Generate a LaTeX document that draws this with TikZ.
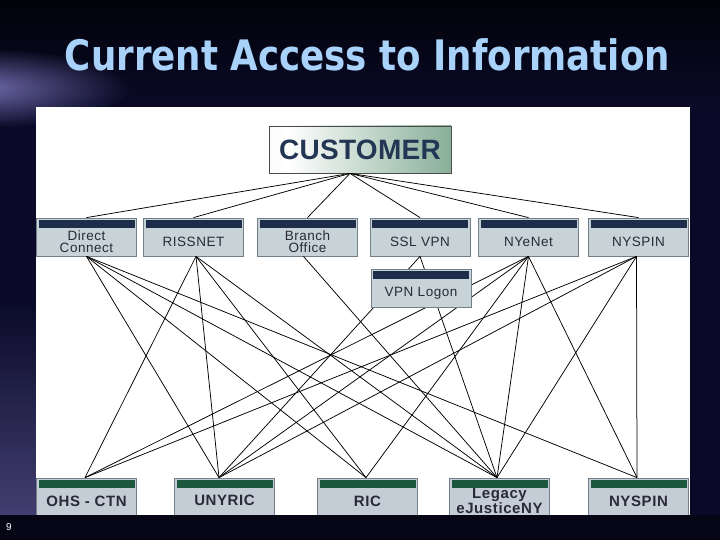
\documentclass[tikz,border=0pt]{standalone}
\usepackage{fontspec}
\setmainfont{Liberation Sans}
\newfontfamily\titlefont{DejaVu Sans}
\newfontfamily\boxfont{Liberation Sans}[LetterSpace=4]
\newfontfamily\custfont{Liberation Sans}[LetterSpace=1]
\usetikzlibrary{calc,fadings}
\tikzfading[name=glowfade, inner color=transparent!0, outer color=transparent!100]
\definecolor{bgnavy}{RGB}{10,10,40}
\definecolor{bgtop}{RGB}{2,2,10}
\definecolor{glow}{RGB}{110,105,170}
\definecolor{titleblue}{RGB}{168,210,250}
\definecolor{boxfill}{RGB}{200,211,216}
\definecolor{boxfillb}{RGB}{196,204,214}
\definecolor{navybar}{RGB}{30,45,75}
\definecolor{greenbar}{RGB}{28,88,62}
\definecolor{boxborder}{RGB}{115,128,138}
\definecolor{custgreen}{RGB}{70,130,95}
\definecolor{custtext}{RGB}{35,55,85}
\definecolor{boxtext}{RGB}{40,42,55}
\definecolor{bandcol}{RGB}{5,5,22}
\pgfdeclarehorizontalshading{custshade}{100bp}{color(0bp)=(gray!18); color(30bp)=(white); color(100bp)=(custgreen)}
\begin{document}
\begin{tikzpicture}[x=1pt,y=-1pt,
  conn/.style={draw=black, line width=0.75pt},
  topbox/.style={draw=boxborder, fill=boxfill, line width=0.8pt, minimum width=100pt, minimum height=38pt, inner sep=0pt,
    path picture={\fill[navybar] ([xshift=2pt,yshift=-2pt]path picture bounding box.north west) rectangle ([xshift=-2pt,yshift=-10pt]path picture bounding box.north east);}},
  botbox/.style={draw=boxborder, fill=boxfillb, line width=0.8pt, minimum width=100pt, minimum height=44pt, inner sep=0pt,
    path picture={\fill[greenbar] ([xshift=2pt,yshift=-2pt]path picture bounding box.north west) rectangle ([xshift=-2pt,yshift=-10pt]path picture bounding box.north east);}},
  toptext/.style={text=boxtext, align=center, inner sep=0pt, font=\boxfont\fontsize{13.5}{12}\selectfont},
  bottext/.style={text=boxtext, align=center, inner sep=0pt, font=\boxfont\bfseries\fontsize{15}{13}\selectfont}]
\useasboundingbox (0,0) rectangle (720,540);
% background
\fill[bgnavy] (0,0) rectangle (720,540);
\shade[top color=bgtop, bottom color=bgnavy] (0,0) rectangle (720,110);
\fill[glow, path fading=glowfade] (-20,88) ellipse (150pt and 40pt);
\fill[glow!70!bgnavy, path fading=north, opacity=0.8] (0,300) rectangle (36,515);
% white panel
\fill[white] (36,107) rectangle (690,515);
% title
\node[text=titleblue, inner sep=0pt, font=\titlefont\bfseries\fontsize{42}{50}\selectfont] (title) at (367.5,55) {\resizebox{605pt}{\height}{Current Access to Information}};
% customer
\node[draw=gray!60!black, line width=0.8pt, shading=custshade, minimum width=182pt, minimum height=47pt, inner sep=0pt,
  text=custtext, font=\custfont\bfseries\fontsize{28}{30}\selectfont] (cust) at (360,149.5) {CUSTOMER};
\coordinate (hub) at ([xshift=-10pt]cust.south);
% top boxes
\node[topbox] (dc) at (86.5,237) {};
\node[topbox] (riss) at (193.5,237) {};
\node[topbox] (branch) at (307.5,237) {};
\node[topbox] (ssl) at (420,237) {};
\node[topbox] (nyenet) at (528.5,237) {};
\node[topbox] (nyspint) at (638.5,237) {};
\node[toptext] (dc-t) at ([yshift=-5pt]dc.center) {Direct\\Connect};
\node[toptext] (riss-t) at ([yshift=-5pt]riss.center) {RISSNET};
\node[toptext] (branch-t) at ([yshift=-5pt]branch.center) {Branch\\Office};
\node[toptext] (ssl-t) at ([yshift=-5pt]ssl.center) {SSL VPN};
\node[toptext] (nyenet-t) at ([yshift=-5pt]nyenet.center) {NYeNet};
\node[toptext] (nyspint-t) at ([yshift=-5pt]nyspint.center) {NYSPIN};
% bottom boxes
\node[botbox] (ohs) at (86.5,500) {};
\node[botbox] (unyric) at (224.5,500) {};
\node[botbox] (ric) at (367.5,500) {};
\node[botbox] (legacy) at (499.5,500) {};
\node[botbox] (nyspinb) at (638.5,500) {};
\node[bottext] (ohs-t) at (86.5,501) {OHS - CTN};
\node[bottext] (unyric-t) at (224.5,500) {UNYRIC};
\node[bottext] (ric-t) at (367.5,501) {RIC};
\node[bottext] (legacy-t) at (499.5,501) {Legacy\\eJusticeNY};
\node[bottext] (nyspinb-t) at (638.5,501) {NYSPIN};
% connector end points
\coordinate (dc-o) at (dc.south);
\coordinate (riss-o) at ([xshift=2.5pt]riss.south);
\coordinate (branch-o) at ([xshift=-4pt]branch.south);
\coordinate (ssl-o) at (ssl.south);
\coordinate (nyenet-o) at (nyenet.south);
\coordinate (nyspint-o) at ([xshift=-2pt]nyspint.south);
\coordinate (ohs-i) at ([xshift=-1.5pt]ohs.north);
\coordinate (unyric-i) at ([xshift=-5.5pt]unyric.north);
\coordinate (ric-i) at ([xshift=-1.5pt]ric.north);
\coordinate (legacy-i) at ([xshift=-2.5pt]legacy.north);
\coordinate (nyspinb-i) at ([xshift=-1.5pt]nyspinb.north);
% customer connectors
\foreach \t in {dc,riss,branch,ssl,nyenet,nyspint}
  \draw[conn] (hub) -- (\t.north);
% network to system connectors
\foreach \a/\b in {dc/unyric, dc/ric, dc/legacy, dc/nyspinb,
                   riss/ohs, riss/unyric, riss/ric, riss/legacy,
                   branch/legacy,
                   ssl/unyric, ssl/legacy,
                   nyenet/ohs, nyenet/unyric, nyenet/ric, nyenet/legacy, nyenet/nyspinb,
                   nyspint/ohs, nyspint/unyric, nyspint/legacy, nyspint/nyspinb}
  \draw[conn] (\a-o) -- (\b-i);
% VPN logon box on top
\node[topbox] (vpn) at (421,288) {};
\node[toptext] (vpn-t) at ([yshift=-5pt]vpn.center) {VPN Logon};
% bottom band
\fill[bandcol] (0,515) rectangle (720,540);
\node[text=white, inner sep=0pt, font=\fontsize{10}{12}\selectfont] (num) at (9,527) {9};
\end{tikzpicture}
\end{document}
